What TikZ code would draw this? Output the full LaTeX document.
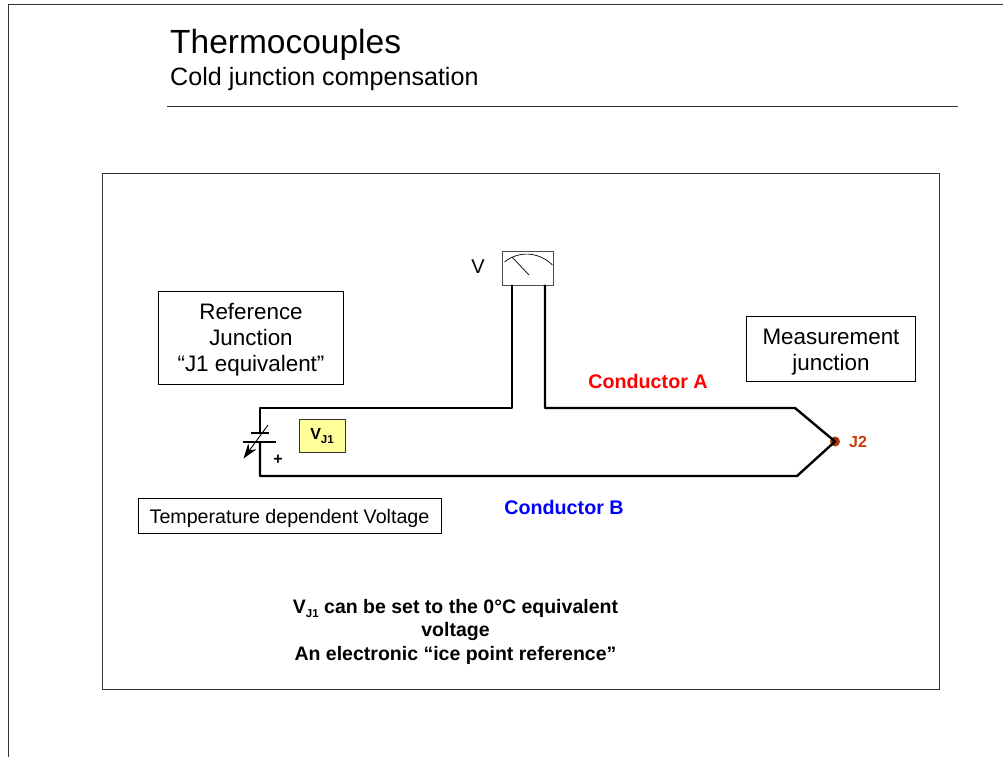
\documentclass[tikz,border=0pt]{standalone}
\usepackage{fontspec}
\setmainfont{Liberation Sans}
\usetikzlibrary{arrows.meta}
\definecolor{jcol}{HTML}{C83C0A}
\definecolor{yel}{HTML}{FFFF99}
\newcommand{\lowsub}[1]{\raisebox{-0.42ex}{\fontsize{11.5}{12}\selectfont #1}}
\tikzset{
  x=1pt,y=-1pt,
  lab/.style={inner sep=0pt,align=center,font=\fontsize{22.4}{26}\selectfont},
  boxed/.style={draw=black,line width=0.8pt,fill=white,anchor=center,minimum width=#1},
  wire/.style={draw=black,line width=2.4pt,line join=round,line cap=round},
  thin line/.style={draw=black!80,line width=0.8pt},
  bold lab/.style={inner sep=0pt,align=center,font=\fontsize{19.5}{23.5}\selectfont\bfseries},
}
\begin{document}
\begin{tikzpicture}
\useasboundingbox (0,0) rectangle (1003,757);
% page edge
\coordinate (pl) at (8,757); \coordinate (pt) at (8,4.5); \coordinate (pr) at (1003,4.5);
\draw[thin line] (pl) -- (pt) -- (pr);
\node[anchor=west,inner sep=0pt,font=\fontsize{33.5}{38}\selectfont] (title) at (170,45) {Thermocouples};
\node[anchor=west,inner sep=0pt,font=\fontsize{25.1}{28}\selectfont] (sub) at (170,79) {Cold junction compensation};
\coordinate (r1) at (167,106); \coordinate (r2) at (958,106);
\draw[thin line] (r1) -- (r2);
\node[draw=black!80,line width=0.8pt,minimum width=837pt,minimum height=516pt,inner sep=0pt] (frame) at (521,431) {};
% meter
\node[draw=black!70,line width=0.9pt,minimum width=51pt,minimum height=34pt,inner sep=0pt] (meter) at (528,268.5) {};
\coordinate (ma) at (512,285.5); \coordinate (mb) at (545,285.5);
\draw[black,line width=0.7pt] (504.5,262) .. controls (518,251) and (538,251) .. (552.5,265);
\draw[black,line width=0.7pt] (512,257) -- (529,275);
\node[inner sep=0pt,font=\fontsize{20}{24}\selectfont] (vl) at (478,267) {V};
% boxes
\node[boxed=185pt,minimum height=93pt,inner sep=0pt,lab] (ref) at (251,337.5) {\rule{0pt}{20pt}Reference\\Junction\\“J1 equivalent”};
\node[boxed=169pt,minimum height=65pt,inner sep=0pt,lab] (meas) at (831,348.5) {\rule{0pt}{22pt}Measurement\\junction};
\node[boxed=303pt,minimum height=35pt,inner sep=0pt,font=\fontsize{19.65}{24}\selectfont] (tdv) at (289.5,516) {\rule{0pt}{19pt}Temperature dependent Voltage};
\node[draw=black!80,line width=0.8pt,fill=yel,minimum width=46pt,minimum height=33pt,inner sep=0pt,font=\fontsize{16}{18}\selectfont\bfseries] (vj) at (322,436) {V\lowsub{J1}};
% junction
\node[circle,fill=jcol!85!black,minimum size=10pt,inner sep=0pt] (j2) at (835,441.5) {};
\node[anchor=west,inner sep=0pt,text=jcol,font=\fontsize{16}{18}\selectfont\bfseries] (j2l) at (849,441.5) {J2};
% battery
\coordinate (bt) at (260,433); \coordinate (bb) at (260,442);
\coordinate (p1a) at (251,433); \coordinate (p1b) at (269,433);
\coordinate (p2a) at (243,442); \coordinate (p2b) at (276,442);
\draw[black,line width=2.2pt] (p1a) -- (p1b);
\draw[black,line width=2.2pt] (p2a) -- (p2b);
\coordinate (as) at (268,425); \coordinate (ae) at (243.5,458.5);
\draw[black,line width=0.9pt,-{Stealth[length=15pt,width=10pt]}] (as) -- (ae);
\node[inner sep=0pt,font=\fontsize{16}{18}\selectfont\bfseries] (plus) at (278,459.5) {+};
% wires
\coordinate (c1) at (260,408); \coordinate (c2) at (512,408);
\coordinate (c3) at (545,408); \coordinate (c4) at (795,408);
\coordinate (c5) at (797,476); \coordinate (c6) at (260,476);
\draw[wire] (bt) -- (c1) -- (c2) -- (ma);
\draw[wire] (mb) -- (c3) -- (c4) -- (j2.center) -- (c5) -- (c6) -- (bb);
% labels
\node[inner sep=0pt,text=red,font=\fontsize{19.7}{22}\selectfont\bfseries] (ca) at (648,381) {Conductor A};
\node[inner sep=0pt,text=blue,font=\fontsize{19.7}{22}\selectfont\bfseries] (cb) at (564,507) {Conductor B};
\node[bold lab] (note) at (455.5,631.5) {V\lowsub{J1} can be set to the 0°C equivalent\\voltage\\An electronic “ice point reference”};
\end{tikzpicture}
\end{document}
